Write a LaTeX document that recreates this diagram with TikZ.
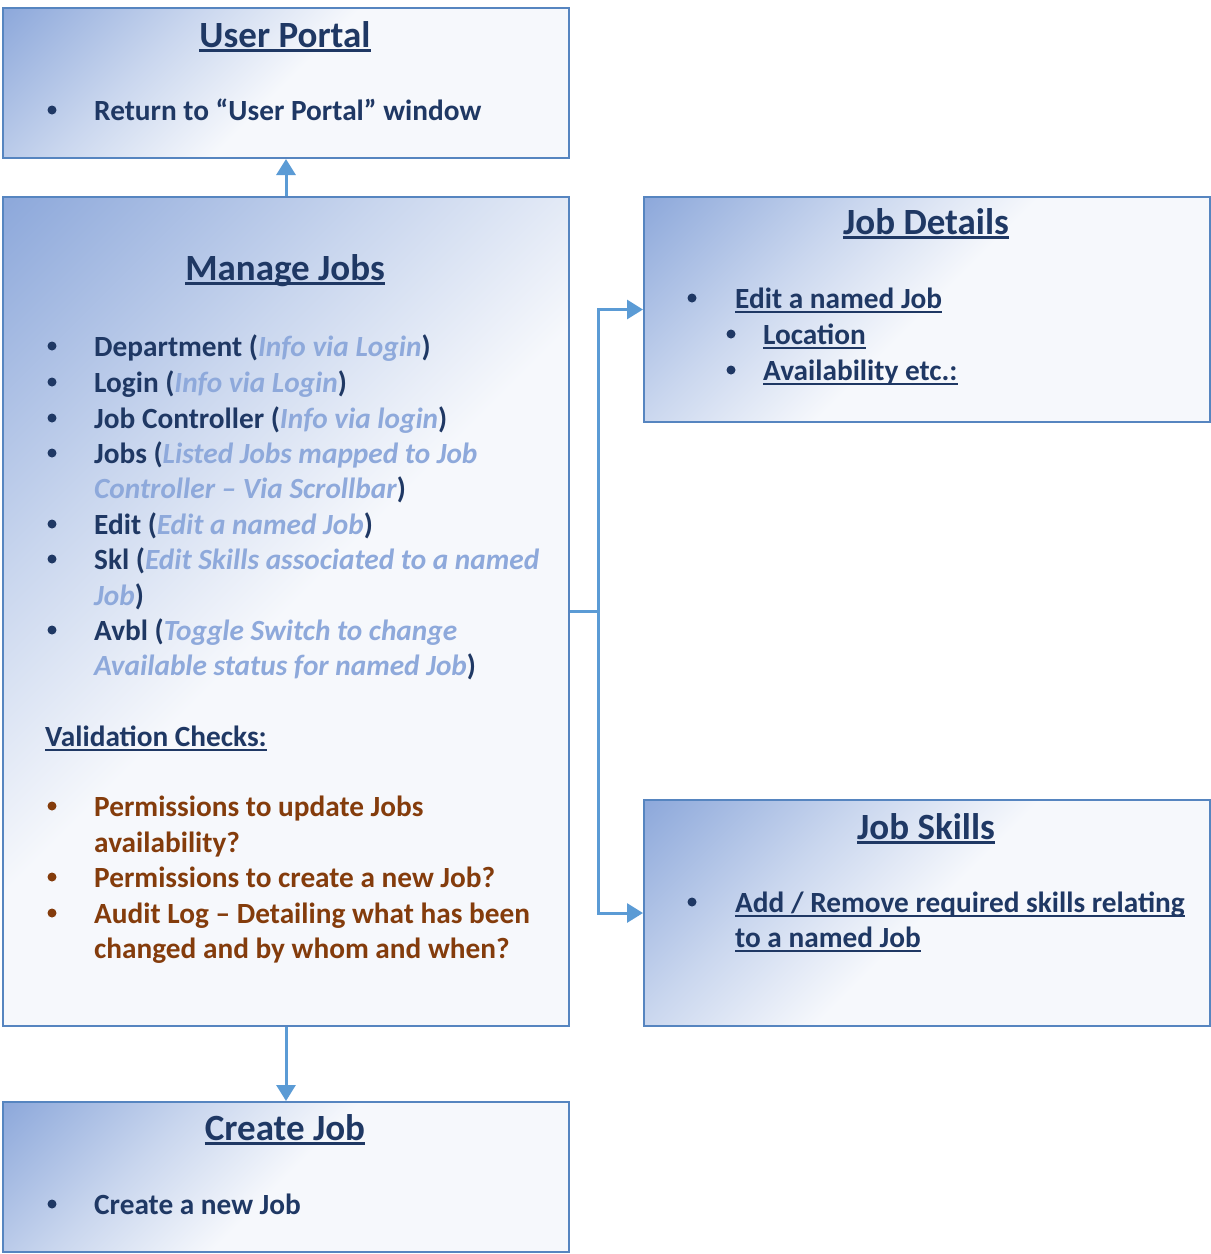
\documentclass[tikz,border=0pt]{standalone}
\usepackage{fontspec}
\setmainfont{Carlito}
\usetikzlibrary{arrows.meta}
\definecolor{gA}{HTML}{8EA9DB}
\definecolor{gB}{HTML}{C9D6EE}
\definecolor{gW}{HTML}{F6F8FC}
\definecolor{bordc}{HTML}{5685C0}
\definecolor{connc}{HTML}{5B9BD5}
\definecolor{navy}{HTML}{1F3864}
\definecolor{lite}{HTML}{8EA9DB}
\definecolor{brn}{HTML}{843C0C}
\pgfdeclarehorizontalshading{boxshade}{100bp}{color(0bp)=(gA); color(15bp)=(gA); color(34bp)=(gB); color(50bp)=(gW); color(100bp)=(gW)}
\newcommand\ulnode[2]{\draw[navy,line width=#2] ([yshift=-3.6pt]#1.base west) -- ([yshift=-3.6pt]#1.base east);}
\newcommand\lt[1]{\textcolor{lite}{\textit{#1}}}
\begin{document}
\begin{tikzpicture}[x=1pt,y=-1pt,
  box/.style={draw=bordc, line width=2pt, shading=boxshade, shading angle=-45, inner sep=0pt, anchor=north west},
  conn/.style={draw=connc, line width=3pt, -{Triangle[width=19pt,length=16pt]}},
  connline/.style={draw=connc, line width=3pt},
  title/.style={anchor=base, inner sep=0pt, text=navy, font=\fontsize{37}{44}\selectfont\bfseries},
  body/.style={anchor=base west, inner sep=0pt, text=navy, font=\fontsize{29.3}{35}\selectfont\bfseries},
  bbody/.style={body, text=brn},
  dot/.style={circle, fill=navy, inner sep=0pt, minimum size=9pt},
  bdot/.style={dot, fill=brn}]
\useasboundingbox (0,0) rectangle (1211,1254);
% boxes
\node[box, minimum width=566pt, minimum height=150pt] (up) at (2,7) {};
\node[box, minimum width=566pt, minimum height=829pt] (mj) at (2,196) {};
\node[box, minimum width=566pt, minimum height=225pt] (jd) at (643,196) {};
\node[box, minimum width=566pt, minimum height=226pt] (js) at (643,799) {};
\node[box, minimum width=566pt, minimum height=150pt] (cj) at (2,1101) {};
% connectors
\draw[conn] (mj.north) -- (up.south);
\draw[conn] (mj.south) -- (cj.north);
\draw[connline] (mj.east) -- ++(28,0) coordinate (jn);
\draw[conn] (jn) |- (jd.west);
\draw[conn] (jn) |- (js.west);
% User Portal
\node[title] (t1) at (285,47) {User Portal};
\ulnode{t1}{2.8pt}
\node[dot] (b1) at (52,110) {};
\node[body] (u1) at (94,120) {Return to “User Portal” window};
% Manage Jobs
\node[title] (t2) at (285,280) {Manage Jobs};
\draw[navy,line width=2.8pt] ([yshift=-3.6pt]t2.base west) -- ([yshift=-3.6pt]t2.base east);
\node[dot] (b2) at (52,346) {};
\node[body] (m1) at (94,356) {Department (\lt{Info via Login})};
\node[dot] (b3) at (52,382) {};
\node[body] (m2) at (94,392) {Login (\lt{Info via Login})};
\node[dot] (b4) at (52,418) {};
\node[body] (m3) at (94,428) {Job Controller (\lt{Info via login})};
\node[dot] (b5) at (52,453) {};
\node[body] (m4) at (94,463) {Jobs (\lt{Listed Jobs mapped to Job}};
\node[body] (m5) at (94,498) {\lt{Controller – Via Scrollbar})};
\node[dot] (b6) at (52,524) {};
\node[body] (m6) at (94,534) {Edit (\lt{Edit a named Job})};
\node[dot] (b7) at (52,559) {};
\node[body] (m7) at (94,569) {Skl (\lt{Edit Skills associated to a named}};
\node[body] (m8) at (94,605) {\lt{Job})};
\node[dot] (b8) at (52,630) {};
\node[body] (m9) at (94,640) {Avbl (\lt{Toggle Switch to change}};
\node[body] (m10) at (94,675) {\lt{Available status for named Job})};
\node[body] (v1) at (45,746) {Validation Checks:};
\ulnode{v1}{2pt}
\node[bdot] (b9) at (52,806) {};
\node[bbody] (p1) at (94,816) {Permissions to update Jobs};
\node[bbody] (p2) at (94,852) {availability?};
\node[bdot] (b10) at (52,877) {};
\node[bbody] (p3) at (94,887) {Permissions to create a new Job?};
\node[bdot] (b11) at (52,913) {};
\node[bbody] (p4) at (94,923) {Audit Log – Detailing what has been};
\node[bbody] (p5) at (94,958) {changed and by whom and when?};
% Job Details
\node[title] (t3) at (926,234) {Job Details};
\ulnode{t3}{2.8pt}
\node[dot] (b12) at (692,298) {};
\node[body] (d1) at (735,308) {Edit a named Job};
\ulnode{d1}{2pt}
\node[dot] (b13) at (731,334) {};
\node[body] (d2) at (763,344) {Location};
\ulnode{d2}{2pt}
\node[dot] (b14) at (731,370) {};
\node[body] (d3) at (763,380) {Availability etc.:};
\ulnode{d3}{2pt}
% Job Skills
\node[title] (t4) at (926,839) {Job Skills};
\ulnode{t4}{2.8pt}
\node[dot] (b15) at (692,902) {};
\node[body] (s1) at (735,912) {Add / Remove required skills relating};
\ulnode{s1}{2pt}
\node[body] (s2) at (735,947) {to a named Job};
\ulnode{s2}{2pt}
% Create Job
\node[title] (t5) at (285,1140) {Create Job};
\ulnode{t5}{2.8pt}
\node[dot] (b16) at (52,1204) {};
\node[body] (c1) at (94,1214) {Create a new Job};
\end{tikzpicture}
\end{document}
